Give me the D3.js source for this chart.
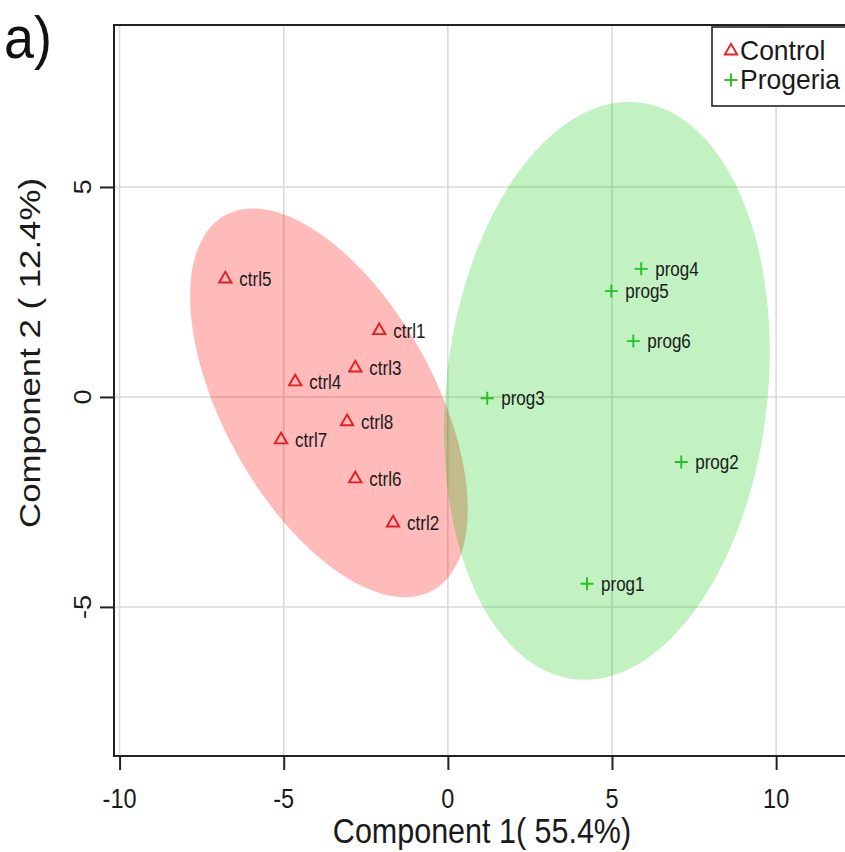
<!DOCTYPE html>
<html>
<head>
<meta charset="utf-8">
<script src="https://cdn.jsdelivr.net/npm/d3@7"></script>
<style>
  html, body { margin: 0; padding: 0; background: #fff; }
  svg text { font-family: "Liberation Sans", Arial, sans-serif; }
</style>
</head>
<body>
<svg id="chart" width="845" height="852"></svg>
<script>
// Sample scores on the first two components
const ctrlNames = ["ctrl1", "ctrl2", "ctrl3", "ctrl4", "ctrl5", "ctrl6", "ctrl7", "ctrl8"];
const ctrlX = [-2.09, -1.67, -2.82, -4.65, -6.78, -2.82, -5.08, -3.07];
const ctrlY = [1.58, -3.00, 0.69, 0.36, 2.81, -1.95, -1.02, -0.59];

const progNames = ["prog1", "prog2", "prog3", "prog4", "prog5", "prog6"];
const progX = [4.24, 7.11, 1.20, 5.89, 4.98, 5.65];
const progY = [-4.45, -1.55, -0.03, 3.05, 2.52, 1.33];

const groupNames = ["Control", "Progeria"];
const xTicks = [-10, -5, 0, 5, 10];
const yTicks = [-5, 0, 5];
const xTitle = "Component 1( 55.4%)";
const yTitle = "Component 2 ( 12.4%)";
const panelTag = "a)";
const ellipseLevel = 0.95;

(function draw() {
  const svg = d3.select("#chart");
  const W = 845, H = 852;
  const S = 1.16; // vertical stretch of the lettering
  svg.append("rect").attr("width", W).attr("height", H).attr("fill", "#fff");

  // plot region (right side runs past the page edge)
  const pL = 114, pR = 871, pT = 25, pB = 756;
  const x = d3.scaleLinear().domain([-10.17, 12.89]).range([pL, pR]);
  const y = d3.scaleLinear().domain([-8.55, 8.857]).range([pB, pT]);

  const red = "#e41f23", green = "#25c125";
  const groups = [
    { name: groupNames[0], labels: ctrlNames, xs: ctrlX, ys: ctrlY, col: red, fill: "rgba(255,0,0,0.27)", shape: "tri" },
    { name: groupNames[1], labels: progNames, xs: progX, ys: progY, col: green, fill: "rgba(0,195,0,0.24)", shape: "plus" }
  ];

  // text placed at (tx, ty), optionally rotated, stretched vertically
  function label(parent, tx, ty, str, size, opts = {}) {
    const s = opts.stretch || S;
    return parent.append("text")
      .attr("transform", `translate(${tx},${ty}) scale(1,${s})` + (opts.rotate ? ` rotate(${opts.rotate})` : ""))
      .attr("text-anchor", opts.anchor || "start")
      .attr("dy", opts.dy || 0)
      .attr("font-size", size)
      .attr("fill", opts.fill || "#1a1a1a")
      .text(str);
  }

  svg.append("defs").append("clipPath").attr("id", "plotclip")
    .append("rect").attr("x", pL).attr("y", pT).attr("width", pR - pL).attr("height", pB - pT);

  const plot = svg.append("g").attr("clip-path", "url(#plotclip)");

  // grid
  plot.selectAll("line.vg").data(xTicks).join("line").attr("class", "vg")
    .attr("x1", d => x(d)).attr("x2", d => x(d)).attr("y1", pT).attr("y2", pB)
    .attr("stroke", "#d9d9d9").attr("stroke-width", 1.5);
  plot.selectAll("line.hg").data(yTicks).join("line").attr("class", "hg")
    .attr("y1", d => y(d)).attr("y2", d => y(d)).attr("x1", pL).attr("x2", pR)
    .attr("stroke", "#d9d9d9").attr("stroke-width", 1.5);

  // confidence ellipse from the group's mean and covariance
  function ellipsePoints(xs, ys, level, n = 120) {
    const mx = d3.mean(xs), my = d3.mean(ys);
    const sx = d3.deviation(xs), sy = d3.deviation(ys);
    let cov = 0;
    for (let i = 0; i < xs.length; i++) cov += (xs[i] - mx) * (ys[i] - my);
    cov /= (xs.length - 1);
    const r = cov / (sx * sy);
    const t = Math.sqrt(-2 * Math.log(1 - level));
    const dd = Math.acos(r);
    return d3.range(n).map(i => {
      const a = 2 * Math.PI * i / n;
      return [mx + t * sx * Math.cos(a + dd / 2), my + t * sy * Math.cos(a - dd / 2)];
    });
  }

  const lineGen = d3.line().x(d => x(d[0])).y(d => y(d[1])).curve(d3.curveLinearClosed);
  groups.forEach(g => {
    plot.append("path")
      .attr("d", lineGen(ellipsePoints(g.xs, g.ys, ellipseLevel)))
      .attr("fill", g.fill).attr("stroke", "none");
  });

  // markers
  const triPath = d3.symbol(d3.symbolTriangle, 66)();
  const plusPath = "M-6.5,0H6.5M0,-6.5V6.5";
  function marker(sel, shape, col) {
    sel.append("path")
      .attr("d", shape === "tri" ? triPath : plusPath)
      .attr("fill", "none").attr("stroke", col).attr("stroke-width", 1.9);
  }

  groups.forEach(g => {
    g.xs.forEach((xv, i) => {
      const px = x(xv), py = y(g.ys[i]);
      const gg = plot.append("g").attr("transform", `translate(${px},${py})`);
      marker(gg, g.shape, g.col);
      label(plot, px + 14, py, g.labels[i], 17, { dy: "0.35em" });
    });
  });

  // frame
  svg.append("rect").attr("x", pL).attr("y", pT).attr("width", pR - pL).attr("height", pB - pT)
    .attr("fill", "none").attr("stroke", "#222").attr("stroke-width", 2);

  // axes: tick marks from d3, lettering placed with the same scales
  const xAxis = svg.append("g").attr("transform", `translate(0,${pB})`)
    .call(d3.axisBottom(x).tickValues(xTicks).tickSize(14).tickFormat(""));
  const yAxis = svg.append("g").attr("transform", `translate(${pL},0)`)
    .call(d3.axisLeft(y).tickValues(yTicks).tickSize(14).tickFormat(""));
  [xAxis, yAxis].forEach(a => {
    a.select(".domain").remove();
    a.selectAll(".tick line").attr("stroke", "#222").attr("stroke-width", 2);
  });
  xTicks.forEach(v => label(svg, x(v), 808, String(v), 23.5, { anchor: "middle" }));
  yTicks.forEach(v => label(svg, pL - 23, y(v), String(v), 23.5, { anchor: "middle", rotate: -90 }));

  // axis titles
  label(svg, 482, 843, xTitle, 30.5, { anchor: "middle" });
  label(svg, 40, 353, yTitle, 30, { anchor: "middle", rotate: -90 });

  // panel tag
  label(svg, 4, 58, panelTag, 54, { fill: "#111", stretch: 1.1 });

  // legend
  const lg = svg.append("g");
  lg.append("rect").attr("x", 712).attr("y", 27).attr("width", 150).attr("height", 79)
    .attr("fill", "#fff").attr("stroke", "#222").attr("stroke-width", 1.6);
  groups.forEach((g, i) => {
    const cy = 51 + i * 29;
    const row = lg.append("g").attr("transform", `translate(731,${cy})`);
    marker(row, g.shape, g.col);
    label(lg, 740, cy, g.name, 26.5, { dy: "0.35em", stretch: 1.02 });
  });
})();
</script>
</body>
</html>
